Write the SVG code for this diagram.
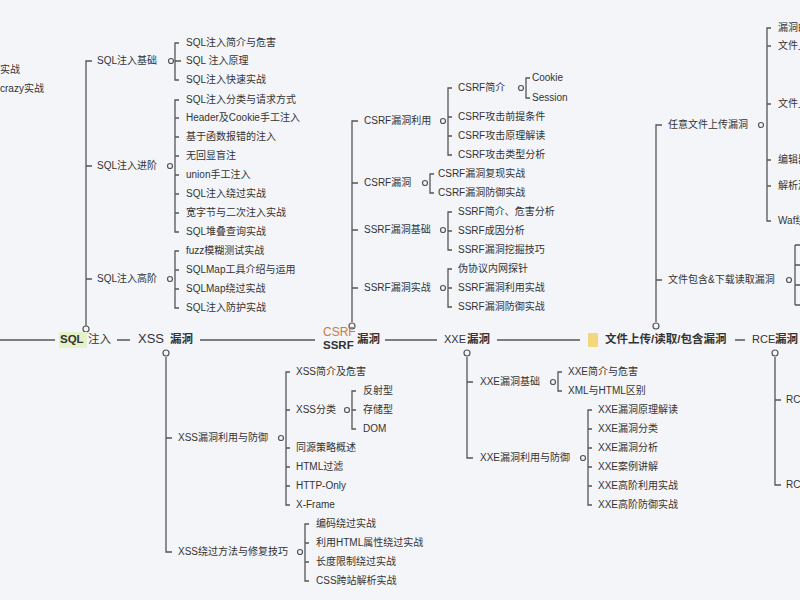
<svg xmlns="http://www.w3.org/2000/svg" width="800" height="600" viewBox="0 0 800 600">
<style>
text{font-family:"Liberation Sans","Noto Sans CJK SC",sans-serif;font-size:10px;fill:#333;dominant-baseline:middle}
.m{font-size:11.5px;font-weight:bold}
.l{stroke:#555;stroke-width:1.3;fill:none}
.c{stroke:#555;stroke-width:1.2;fill:#f3f5f9}
</style>
<rect width="800" height="600" fill="#f3f5f9"/>
<g id="connectors" class="l">
<path d="M0 340H55M117 340H130M200 340H315M385 340H437M497 340H580M735 340H745"/>
<path d="M86 326V61H92M86 166H92M86 279H92"/>
<path d="M179 43H175V80H179M175 61H181"/>
<path d="M179 100H175V232H179M175 118H179M175 137H179M175 156H179M175 175H179M175 194H179M175 213H179"/>
<path d="M179 251H175V308H179M175 270H179M175 289H179"/>
<path d="M166 357V552H172M166 438H172"/>
<path d="M290 372H286V505H290M286 410H290M286 448H290M286 467H290M286 486H290"/>
<path d="M356 391H352V429H356M352 410H356"/>
<path d="M309 524H305V581H309M305 543H309M305 562H309"/>
<path d="M352 322V121H358M352 183H358M352 230H358M352 288H358"/>
<path d="M452 88H448V155H452M448 117H452M448 136H452"/>
<path d="M530 78H526V98H530"/>
<path d="M434 174H430V193H434"/>
<path d="M452 212H448V250H452M448 231H452"/>
<path d="M452 269H448V307H452M448 288H452"/>
<path d="M467 357V458H473M467 382H473"/>
<path d="M562 372H558V391H562"/>
<path d="M592 410H588V505H592M588 429H592M588 448H592M588 467H592M588 486H592"/>
<path d="M656 322V125H662M656 280H662"/>
<path d="M771 28H767V221H771M767 46H771M767 104H771M767 160H771M767 186H771"/>
<path d="M795 245V305M795 245H800M795 265H800M795 285H800M795 305H800"/>
<path d="M775 357V485H781M775 400H781"/>
</g>
<g id="circles" class="c">
<circle cx="86" cy="329" r="3"/><circle cx="166" cy="353" r="3"/><circle cx="352" cy="326" r="3"/><circle cx="467" cy="353" r="3"/><circle cx="656" cy="326" r="3"/><circle cx="775" cy="353" r="3"/>
<circle cx="171" cy="61" r="2.5"/><circle cx="170" cy="166" r="2.5"/><circle cx="170" cy="279" r="2.5"/>
<circle cx="281" cy="438" r="2.5"/><circle cx="347" cy="410" r="2.5"/><circle cx="300" cy="552" r="2.5"/>
<circle cx="443" cy="121" r="2.5"/><circle cx="521" cy="88" r="2.5"/><circle cx="425" cy="183" r="2.5"/><circle cx="443" cy="230" r="2.5"/><circle cx="443" cy="288" r="2.5"/>
<circle cx="553" cy="382" r="2.5"/><circle cx="583" cy="458" r="2.5"/>
<circle cx="761" cy="125" r="2.5"/><circle cx="789" cy="280" r="2.5"/>
</g>
<g id="left-edge"><text x="0" y="70">实战</text><text x="0" y="89">crazy实战</text></g>
<g id="main">
<rect x="59" y="332" width="28" height="16" fill="#e6f2c8"/>
<text class="m" x="60" y="340">SQL</text><text class="m" x="88" y="340" style="font-weight:normal">注入</text>
<text x="138" y="340" style="font-size:13px">XSS</text><text class="m" x="170" y="340">漏洞</text>
<text x="323" y="333" style="font-size:12px;fill:#d07a3e">CSRF</text><text x="323" y="346" style="font-size:11.5px;font-weight:bold">SSRF</text><text class="m" x="357" y="340">漏洞</text>
<text x="444" y="340" style="font-size:11px">XXE</text><text class="m" x="467" y="340">漏洞</text>
<rect x="588" y="333" width="10" height="14" fill="#f4d77a" rx="1"/>
<text class="m" x="605" y="340">文件上传/读取/包含漏洞</text>
<text x="752" y="340" style="font-size:11px">RCE</text><text class="m" x="775" y="340">漏洞</text>
</g>
<g id="sql">
<text x="97" y="61">SQL注入基础</text><text x="97" y="166">SQL注入进阶</text><text x="97" y="279">SQL注入高阶</text>
<text x="186" y="43">SQL注入简介与危害</text><text x="186" y="61">SQL 注入原理</text><text x="186" y="80">SQL注入快速实战</text>
<text x="186" y="100">SQL注入分类与请求方式</text><text x="186" y="118">Header及Cookie手工注入</text><text x="186" y="137">基于函数报错的注入</text><text x="186" y="156">无回显盲注</text><text x="186" y="175">union手工注入</text><text x="186" y="194">SQL注入绕过实战</text><text x="186" y="213">宽字节与二次注入实战</text><text x="186" y="232">SQL堆叠查询实战</text>
<text x="186" y="251">fuzz模糊测试实战</text><text x="186" y="270">SQLMap工具介绍与运用</text><text x="186" y="289">SQLMap绕过实战</text><text x="186" y="308">SQL注入防护实战</text>
</g>
<g id="xss">
<text x="178" y="438">XSS漏洞利用与防御</text><text x="178" y="552">XSS绕过方法与修复技巧</text>
<text x="296" y="372">XSS简介及危害</text><text x="296" y="410">XSS分类</text><text x="296" y="448">同源策略概述</text><text x="296" y="467">HTML过滤</text><text x="296" y="486">HTTP-Only</text><text x="296" y="505">X-Frame</text>
<text x="363" y="391">反射型</text><text x="363" y="410">存储型</text><text x="363" y="429">DOM</text>
<text x="316" y="524">编码绕过实战</text><text x="316" y="543">利用HTML属性绕过实战</text><text x="316" y="562">长度限制绕过实战</text><text x="316" y="581">CSS跨站解析实战</text>
</g>
<g id="csrf">
<text x="364" y="121">CSRF漏洞利用</text><text x="364" y="183">CSRF漏洞</text><text x="364" y="230">SSRF漏洞基础</text><text x="364" y="288">SSRF漏洞实战</text>
<text x="458" y="88">CSRF简介</text><text x="458" y="117">CSRF攻击前提条件</text><text x="458" y="136">CSRF攻击原理解读</text><text x="458" y="155">CSRF攻击类型分析</text>
<text x="532" y="78">Cookie</text><text x="532" y="98">Session</text>
<text x="438" y="174">CSRF漏洞复现实战</text><text x="438" y="193">CSRF漏洞防御实战</text>
<text x="458" y="212">SSRF简介、危害分析</text><text x="458" y="231">SSRF成因分析</text><text x="458" y="250">SSRF漏洞挖掘技巧</text>
<text x="458" y="269">伪协议内网探针</text><text x="458" y="288">SSRF漏洞利用实战</text><text x="458" y="307">SSRF漏洞防御实战</text>
</g>
<g id="xxe">
<text x="480" y="382">XXE漏洞基础</text><text x="480" y="458">XXE漏洞利用与防御</text>
<text x="568" y="372">XXE简介与危害</text><text x="568" y="391">XML与HTML区别</text>
<text x="598" y="410">XXE漏洞原理解读</text><text x="598" y="429">XXE漏洞分类</text><text x="598" y="448">XXE漏洞分析</text><text x="598" y="467">XXE案例讲解</text><text x="598" y="486">XXE高阶利用实战</text><text x="598" y="505">XXE高阶防御实战</text>
</g>
<g id="file">
<text x="668" y="125">任意文件上传漏洞</text><text x="668" y="280">文件包含&amp;下载读取漏洞</text>
<text x="778" y="28">漏洞的</text><text x="778" y="46">文件上</text><text x="778" y="104">文件上</text><text x="778" y="160">编辑器</text><text x="778" y="186">解析漏</text><text x="778" y="221">Waf绕</text>
</g>
<g id="rce"><text x="786" y="400">RC</text><text x="786" y="485">RC</text></g>
</svg>
